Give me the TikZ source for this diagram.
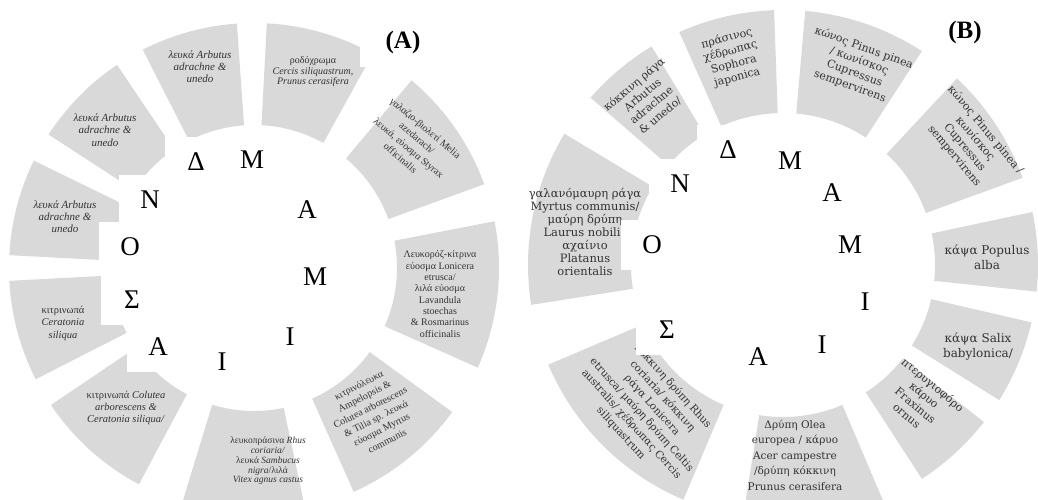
\documentclass[tikz,border=0pt]{standalone}
\usepackage{fontspec}
\setmainfont{Liberation Serif}
\newfontfamily\wideserif{DejaVu Serif}
\usepackage{xcolor}
\usepackage{tikz}
\usetikzlibrary{calc}
\definecolor{sectorgray}{HTML}{D9D9D9}
\definecolor{inkgray}{HTML}{333333}

\begin{document}
\begin{tikzpicture}[x=1pt, y=1pt,
    sector/.style={fill=sectorgray},
    month/.style={fill=white, inner sep=0pt, minimum width=62pt, minimum height=50pt, font=\fontsize{27}{27}\selectfont},
    panel/.style={fill=white, inner sep=0pt, minimum width=86pt, minimum height=50pt, font=\fontsize{25}{25}\selectfont\bfseries},
    plantA/.style={align=center, inner sep=0pt, text=inkgray, font=\fontsize{10}{11.3}\selectfont},
    plantB/.style={align=center, inner sep=0pt, text=inkgray, font=\wideserif\fontsize{11}{13.5}\selectfont}
]
    \useasboundingbox (0,0) rectangle (1038,499);
    \clip (0,0) rectangle (1038,499);

    % Ring (A)
    \coordinate (ca) at (254,231);
    \foreach \a/\b in {94/117, 61/87, 20/50, -24/11, -66/-36, -107/-78, -146/-118, -177/-153, 154/177, 124/147}
        \fill[sector] ($(ca)+(\a:245)$) arc[start angle=\a, end angle=\b, radius=245]
            -- ($(ca)+(\b:143)$) arc[start angle=\b, end angle=\a, radius=143] -- cycle;

    \node[plantA, font=\fontsize{10}{10.5}\selectfont] (a-cercis) at (313,427) {ροδόχρωμα\\ \textit{Cercis siliquastrum,}\\ \textit{Prunus cerasifera}};
    \node[plantA, font=\fontsize{10}{13}\selectfont, rotate=-40] (a-melia) at (413,356) {γαλαζιο-βιολετί Melia\\ azedarach/\\ λευκά, εύοσμα Styrax\\ officinalis};
    \node[plantA] (a-lonicera) at (440,205) {Λευκορόζ-κίτρινα\\ εύοσμα Lonicera\\ etrusca/\\ λιλά εύοσμα\\ Lavandula\\ stoechas\\ \& Rosmarinus\\ officinalis};
    \node[plantA, font=\fontsize{10}{12.5}\selectfont, rotate=27] (a-ampelopsis) at (373,86) {κιτρινόλευκα\\ Ampelopsis \&\\ Colutea arborescens\\ \& Tilia sp. λευκά\\ εύοσμα Myrtus\\ communis};
    \node[plantA, font=\fontsize{9.5}{9.8}\selectfont] (a-rhus) at (268,38) {λευκοπράσινα \textit{Rhus}\\ \textit{coriaria/}\\ λευκά \textit{Sambucus}\\ \textit{nigra}/λιλά\\ \textit{Vitex agnus castus}};
    \node[plantA, font=\fontsize{10.5}{12}\selectfont] (a-colutea) at (126,91) {κιτρινωπά \textit{Colutea}\\ \textit{arborescens \&}\\ \textit{Ceratonia siliqua/}};
    \node[plantA, font=\fontsize{10.5}{12.5}\selectfont] (a-ceratonia) at (63,176) {κιτρινωπά\\ \textit{Ceratonia}\\ \textit{siliqua}};
    \node[plantA, font=\fontsize{11}{12}\selectfont\itshape] (a-arbutus1) at (65,282) {λευκά Arbutus\\ adrachne \&\\ unedo};
    \node[plantA, font=\fontsize{11}{12.5}\selectfont\itshape] (a-arbutus2) at (105,369) {λευκά Arbutus\\ adrachne \&\\ unedo};
    \node[plantA, font=\fontsize{11}{12}\selectfont\itshape] (a-arbutus3) at (200,432) {λευκά Arbutus\\ adrachne \&\\ unedo};

    \node[month] (a-dec) at (196,337) {Δ};
    \node[month] (a-mar) at (252,339) {Μ};
    \node[month] (a-apr) at (307,289) {Α};
    \node[month] (a-may) at (315,222) {Μ};
    \node[month] (a-jun) at (290,162) {Ι};
    \node[month] (a-jul) at (222,137) {Ι};
    \node[month] (a-aug) at (158,152) {Α};
    \node[month] (a-sep) at (132,199) {Σ};
    \node[month] (a-oct) at (130,252) {Ο};
    \node[month] (a-nov) at (150,299) {Ν};
    \node[panel] (a-tag) at (403,457) {(A)};

    % Ring (B)
    \coordinate (cb) at (783,234);
    \foreach \a/\b in {92/114, 57/85, 20/47, -6/12, -32/-13, -57/-38, -99/-67, -157/-113, 149/189, 121/139}
        \fill[sector] ($(cb)+(\a:255)$) arc[start angle=\a, end angle=\b, radius=255]
            -- ($(cb)+(\b:152)$) arc[start angle=\b, end angle=\a, radius=152] -- cycle;

    \node[plantB, rotate=40] (b-arbutus) at (647,399) {κόκκινη ράγα\\ Arbutus\\ adrachne\\ \& unedo/};
    \node[plantB, rotate=15] (b-sophora) at (732,441) {πράσινος\\ χέδρωπας\\ Sophora\\ japonica};
    \node[plantB, rotate=-20] (b-pinus1) at (857,432) {κώνος Pinus pinea\\ / κωνίσκος\\ Cupressus\\ sempervirens};
    \node[plantB, rotate=-50] (b-pinus2) at (970,356) {κώνος Pinus pinea /\\ κωνίσκος\\ Cupressus\\ sempervirens};
    \node[plantB, font=\wideserif\fontsize{12}{15}\selectfont] (b-populus) at (987,242) {κάψα Populus\\ alba};
    \node[plantB, font=\wideserif\fontsize{12}{15}\selectfont] (b-salix) at (978,152) {κάψα Salix\\ babylonica/};
    \node[plantB, rotate=-40] (b-fraxinus) at (920,99) {πτερυγιοφόρο\\ κάρυο\\ Fraxinus\\ ornus};
    \node[plantB, font=\wideserif\fontsize{10.5}{15.5}\selectfont] (b-olea) at (795,44) {Δρύπη Olea\\ europea / κάρυο\\ Acer campestre\\ /δρύπη κόκκινη\\ Prunus cerasifera};
    \node[plantB, font=\wideserif\fontsize{10.5}{14}\selectfont, rotate=-48] (b-rhus) at (647,89) {κόκκινη δρύπη Rhus\\ coriaria/ κόκκινη\\ ράγα Lonicera\\ etrusca/ μαύρη δρύπη Celtis\\ australis/ χέδρωπας Cercis\\ siliquastrum};
    \node[plantB, font=\wideserif\fontsize{11.5}{13}\selectfont] (b-myrtus) at (585,267) {γαλανόμαυρη ράγα\\ Myrtus communis/\\ μαύρη δρύπη\\ Laurus nobilis\\ αχαίνιο\\ Platanus\\ orientalis};

    \node[month] (b-dec) at (728,349) {Δ};
    \node[month] (b-mar) at (790,338) {Μ};
    \node[month] (b-apr) at (832,306) {Α};
    \node[month] (b-may) at (850,254) {Μ};
    \node[month] (b-jun) at (865,197) {Ι};
    \node[month] (b-jul) at (822,154) {Ι};
    \node[month] (b-aug) at (758,142) {Α};
    \node[month] (b-sep) at (667,169) {Σ};
    \node[month] (b-oct) at (652,254) {Ο};
    \node[month] (b-nov) at (680,315) {Ν};
    \node[panel] (b-tag) at (965,467) {(B)};
\end{tikzpicture}
\end{document}
